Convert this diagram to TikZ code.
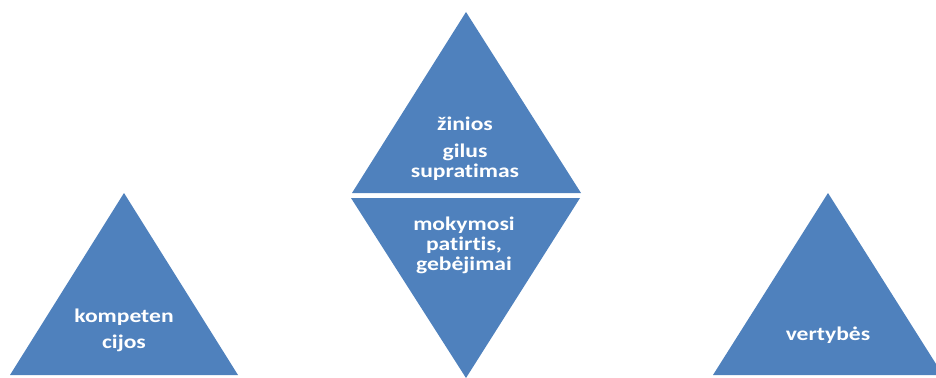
\documentclass[tikz,border=0pt]{standalone}
\usepackage{fontspec}
\setmainfont{Carlito}[FakeStretch=1.22, Ligatures=NoCommon]
\definecolor{triblue}{RGB}{79,129,189}
\tikzset{
  tri/.style={fill=triblue},
  tritext/.style={text=white, font=\fontsize{14.5}{15}\selectfont\bfseries, align=center, inner sep=0pt, anchor=base}
}
\begin{document}
\begin{tikzpicture}[x=0.75pt, y=-0.75pt]
        \useasboundingbox (0,0) rectangle (936,378);

        % Left triangle
        \fill[tri] (10,375) -- (124,193) -- (238,375) -- cycle;
        \node[tritext] (komp) at (124,348) {kompeten\\[4pt]cijos};

        % Middle, upper triangle
        \fill[tri] (352,193) -- (466,12) -- (581,193) -- cycle;
        \node[tritext] (zin) at (465,131) {žinios};
        \node[tritext] (gil) at (465,177) {gilus\\supratimas};

        % Middle, lower triangle (upside down)
        \fill[tri] (351,198) -- (580,198) -- (466,378) -- cycle;
        \node[tritext] (mok) at (464,270) {mokymosi\\patirtis,\\gebėjimai};

        % Right triangle
        \fill[tri] (713,375) -- (828,193) -- (943,375) -- cycle;
        \node[tritext] (vert) at (828,340) {vertybės};

    \end{tikzpicture}
\end{document}
